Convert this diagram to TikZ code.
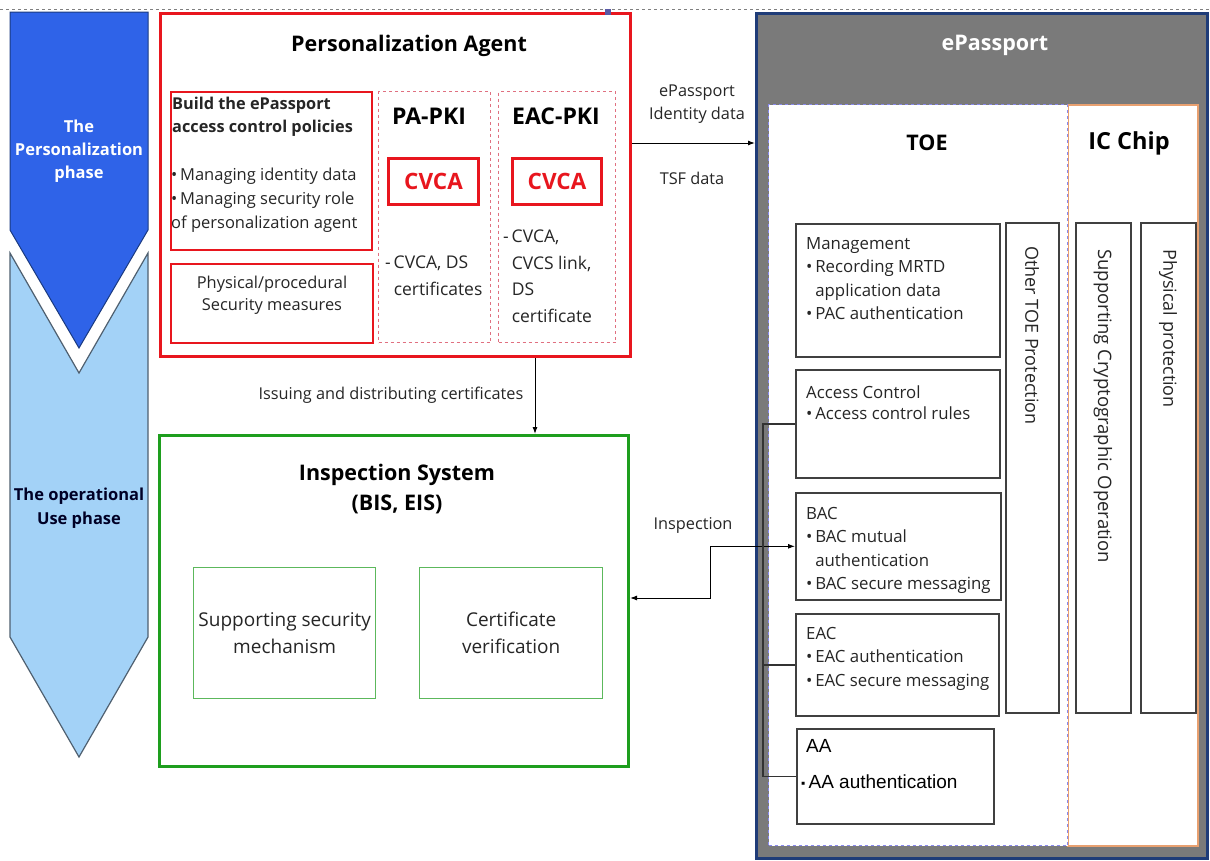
\documentclass[tikz,border=0pt]{standalone}
\usepackage{fontspec}
\setmainfont{Open Sans}
\newfontfamily\aafont{Liberation Sans}
\usetikzlibrary{arrows.meta}
\definecolor{chevdark}{HTML}{2F63E8}
\definecolor{chevdarkline}{HTML}{1A3A80}
\definecolor{chevlight}{HTML}{A3D2F7}
\definecolor{chevlightline}{HTML}{4F6070}
\definecolor{pared}{HTML}{E8161E}
\definecolor{pinkd}{HTML}{E07080}
\definecolor{insgreen}{HTML}{1E9E1E}
\definecolor{lightgreen}{HTML}{5CB85C}
\definecolor{epgray}{HTML}{7A7A7A}
\definecolor{epblue}{HTML}{1F3C78}
\definecolor{toeblue}{HTML}{8A8AF0}
\definecolor{icorange}{HTML}{E8A070}
\definecolor{boxgray}{HTML}{404040}
\definecolor{txt}{HTML}{262626}
\newcommand{\fs}[2]{\fontsize{#1}{#2}\selectfont}
\begin{document}
\begin{tikzpicture}[x=1pt,y=-1pt,
  box/.style={rectangle, inner sep=0pt, anchor=north west},
  redouter/.style={box, draw=pared, line width=3pt},
  redinner/.style={box, draw=pared, line width=1.8pt},
  pkibox/.style={box, draw=pinkd, line width=1pt, dashed},
  cvcabox/.style={box, draw=pared, line width=3pt, text=pared, font=\bfseries\fs{22.5}{26}},
  greenouter/.style={box, draw=insgreen, line width=3pt},
  greeninner/.style={box, draw=lightgreen, line width=1.3pt},
  graybox/.style={box, draw=boxgray, line width=1.6pt, fill=white},
  lbl/.style={inner sep=0pt, text=txt},
  arr/.style={line width=1pt, -{Latex[length=7pt,width=5pt]}},
  darr/.style={line width=1pt, {Latex[length=7pt,width=5pt]}-{Latex[length=7pt,width=5pt]}},
]
\useasboundingbox (0,0) rectangle (1210,860);
\fill[white] (0,0) rectangle (1210,860);
\draw[gray, dashed, line width=0.8pt] (0,9) -- (1210,9);

% phase chevrons
\filldraw[fill=chevdark, draw=chevdarkline, line width=1pt]
  (10,12) -- (148,12) -- (148,230) -- (79,348) -- (10,230) -- cycle;
\filldraw[fill=chevlight, draw=chevlightline, line width=1.2pt]
  (10,253) -- (79,373) -- (148,253) -- (148,637) -- (79,757) -- (10,637) -- cycle;
\node[lbl, text=white, align=center, font=\bfseries\fs{16.5}{23}] (ph1) at (79,151) {The\\Personalization\\phase};
\node[lbl, text=black!85!blue, align=center, font=\bfseries\fs{16.5}{24}] (ph2) at (79,508) {The operational\\Use phase};

% Personalization Agent
\node[redouter, minimum width=470pt, minimum height=343pt] (pa) at (159,12) {};
\node[lbl, text=black, font=\bfseries\fs{21.5}{26}] (patitle) at (409,46) {Personalization Agent};
\node[redinner, minimum width=201pt, minimum height=158pt] (build) at (170,91) {};
\node[lbl, anchor=north west, align=left, font=\bfseries\fs{16.3}{23}] (buildt) at (172,97) {Build the ePassport\\access control policies};
\node[lbl, anchor=north west, align=left, font=\fs{16.5}{24}] (buildl) at (171,168) {•\,Managing identity data\\•\,Managing security role\\of personalization agent};
\node[redinner, minimum width=202pt, minimum height=79pt] (phys) at (170,263) {};
\node[lbl, align=center, font=\fs{16.4}{22}] (physt) at (272,295) {Physical/procedural\\Security measures};
\node[pkibox, minimum width=112pt, minimum height=251pt] (papki) at (378,91) {};
\node[lbl, text=black, font=\bfseries\fs{23}{26}] (papkit) at (429,116) {PA-PKI};
\node[cvcabox, minimum width=90pt, minimum height=46pt] (cvca1) at (387,157) {CVCA};
\node[lbl, anchor=north west, align=left, font=\fs{17.5}{27}] (pacert) at (385,256) {-\,CVCA, DS\\\phantom{-\,}certificates};
\node[pkibox, minimum width=117pt, minimum height=251pt] (eacpki) at (498,91) {};
\node[lbl, text=black, font=\bfseries\fs{23}{26}] (eacpkit) at (556,116) {EAC-PKI};
\node[cvcabox, minimum width=89pt, minimum height=46pt] (cvca2) at (511,157) {CVCA};
\node[lbl, anchor=north west, align=left, font=\fs{17.5}{26.5}] (eaccert) at (503,230) {-\,CVCA,\\\phantom{-\,}CVCS link,\\\phantom{-\,}DS\\\phantom{-\,}certificate};

% Inspection System
\node[greenouter, minimum width=469pt, minimum height=331pt] (insp) at (158,434) {};
\node[lbl, text=black, align=center, font=\bfseries\fs{21.5}{30}] (inspt) at (397,489) {Inspection System\\(BIS, EIS)};
\node[greeninner, minimum width=182pt, minimum height=131pt, align=center, font=\fs{19}{27}, text=txt] (ssm) at (193,567) {Supporting security\\mechanism};
\node[greeninner, minimum width=183pt, minimum height=131pt, align=center, font=\fs{19}{27}, text=txt] (cv) at (419,567) {Certificate\\verification};

% ePassport
\node[box, fill=epgray, draw=epblue, line width=2.5pt, minimum width=451pt, minimum height=845pt] (ep) at (755,12) {};
\node[lbl, text=white, font=\bfseries\fs{21.5}{26}] (ept) at (995,45) {ePassport};
\node[box, fill=white, draw=icorange, line width=2pt, minimum width=130pt, minimum height=741pt] (ic) at (1067,104) {};
\node[box, fill=white, draw=toeblue, line width=1pt, dashed, minimum width=299pt, minimum height=741pt] (toe) at (768,104) {};
\node[lbl, text=black, font=\bfseries\fs{21.5}{26}] (toet) at (927,143) {TOE};
\node[lbl, text=black, font=\bfseries\fs{23.5}{26}] (ict) at (1129,143) {IC Chip};

\node[graybox, minimum width=204pt, minimum height=133pt] (mgmt) at (795,223) {};
\node[lbl, anchor=north west, align=left, font=\fs{16.8}{23.5}] (mgmtt) at (806,237) {Management\\•\,Recording MRTD\\\phantom{•\,}application data\\•\,PAC authentication};
\node[graybox, minimum width=204pt, minimum height=108pt] (ac) at (795,369) {};
\node[lbl, anchor=north west, align=left, font=\fs{16.8}{21}] (act) at (806,386) {Access Control\\•\,Access control rules};
\node[graybox, minimum width=205pt, minimum height=107pt] (bac) at (795,492) {};
\node[lbl, anchor=north west, align=left, font=\fs{16.8}{23.5}] (bact) at (806,507) {BAC\\•\,BAC mutual\\\phantom{•\,}authentication\\•\,BAC secure messaging};
\node[graybox, minimum width=203pt, minimum height=102pt] (eac) at (795,613) {};
\node[lbl, anchor=north west, align=left, font=\fs{16.8}{23.5}] (eact) at (806,627) {EAC\\•\,EAC authentication\\•\,EAC secure messaging};
\node[graybox, minimum width=197pt, minimum height=95pt] (aa) at (796,728) {};
\node[lbl, anchor=north west, text=black, font=\aafont\fs{19}{22}] (aat) at (806,739) {AA};
\node[lbl, anchor=west, text=black, font=\aafont\fs{19}{22}] (aal) at (801,782) {\raisebox{1pt}{\fs{12}{13}▪}\,AA authentication};

\node[graybox, minimum width=53pt, minimum height=490pt] (other) at (1005,222) {};
\node[lbl, rotate=-90, anchor=west, font=\fs{18}{20}] (othert) at (1032,246) {Other TOE Protection};
\node[graybox, minimum width=55pt, minimum height=490pt] (crypto) at (1075,222) {};
\node[lbl, rotate=-90, anchor=west, font=\fs{18.5}{20}] (cryptot) at (1103,249) {Supporting Cryptographic Operation};
\node[graybox, minimum width=55pt, minimum height=490pt] (physp) at (1140,222) {};
\node[lbl, rotate=-90, anchor=west, font=\fs{18}{20}] (physpt) at (1168,249) {Physical protection};

% connectors
\coordinate (idy) at (0,143);
\draw[arr] (pa.east |- idy) -- (ep.west |- idy);
\node[lbl, align=center, font=\fs{16.3}{23}] (idl) at (697,104) {ePassport\\Identity data};
\node[lbl, font=\fs{16.3}{19}] (tsfl) at (692,178) {TSF data};

\coordinate (isx) at (535,0);
\draw[arr] (pa.south -| isx) -- (insp.north -| isx);
\node[lbl, font=\fs{16.3}{19}] (issl) at (391,395) {Issuing and distributing certificates};

\coordinate (iy) at (0,598);
\coordinate (ix) at (710,0);
\draw[darr] (insp.east |- iy) -- (ix |- iy) -- (ix |- bac.west) -- (bac.west);
\node[lbl, font=\fs{16.3}{19}] (inspl) at (693,525) {Inspection};

\coordinate (busx) at (763,0);
\draw[line width=1.4pt, black!80] (ac.west) -| (busx |- aa.west) -- (aa.west);
\draw[line width=1.4pt, black!80] (busx |- eac.west) -- (eac.west);

% small selection handle
\fill[gray!70!blue] (605,9) rectangle (611,15);
\end{tikzpicture}
\end{document}
